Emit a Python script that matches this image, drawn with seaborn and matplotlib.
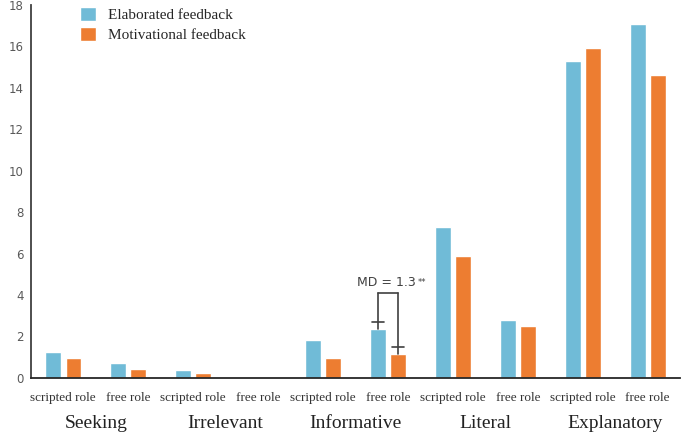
import pandas as pd
import matplotlib.pyplot as plt
import seaborn as sns
from matplotlib.patches import Patch

# values
categories = ["Seeking", "Irrelevant", "Informative", "Literal", "Explanatory"]
roles = ["scripted role", "free role"]
elaborated = [1.25, 0.7, 0.4, 0.0, 1.85, 2.35, 7.3, 2.8, 15.3, 17.1]
motivational = [0.95, 0.45, 0.25, 0.0, 0.95, 1.15, 5.9, 2.5, 15.9, 14.6]
series = ["Elaborated feedback", "Motivational feedback"]
colors = ["#70BBD7", "#ED7D31"]

# error bar tops for the Informative / free role pair
err_top = [2.7, 1.5]
md_text = "MD = 1.3"

keys = [f"{c}|{r}" for c in categories for r in roles]
df = pd.DataFrame({
    "key": keys * 2,
    "value": elaborated + motivational,
    "feedback": [series[0]] * len(keys) + [series[1]] * len(keys),
})

sns.set_style("white")
fig = plt.figure(figsize=(6.85, 4.41), dpi=100)
ax = fig.add_axes([0.045, 0.143, 0.948, 0.846])

sns.barplot(data=df, x="key", y="value", hue="feedback", order=keys,
            palette=colors, width=0.62, gap=0.22, legend=False, ax=ax,
            saturation=1)

ax.set_xlim(-0.5, len(keys) - 0.5)
ax.set_ylim(0, 18)
ax.set_yticks(range(0, 19, 2))
ax.tick_params(axis="y", labelsize=8.5, labelcolor="#595959", length=0, pad=5)
ax.tick_params(axis="x", length=0, pad=10)
ax.set_xticks(range(len(keys)))
ax.set_xticklabels([k.split("|")[1] for k in keys], family="Liberation Serif",
                   fontsize=9.5, color="#333333")
ax.set_xlabel("")
ax.set_ylabel("")
sns.despine(ax=ax)
ax.spines["left"].set_color("#404040")
ax.spines["bottom"].set_color("#262626")
ax.spines["left"].set_linewidth(1.3)
ax.spines["bottom"].set_linewidth(1.3)

# category names under each pair
for i, c in enumerate(categories):
    ax.annotate(c, xy=(2 * i + 0.5, 0), xycoords=("data", "axes fraction"),
                xytext=(0, -33), textcoords="offset points", ha="center",
                va="center", family="Liberation Serif", fontsize=14,
                color="#222222")

# error bars and bracket on Informative / free role
idx = keys.index("Informative|free role")
bars = [ax.containers[0][idx], ax.containers[1][idx]]
xs = [b.get_x() + b.get_width() / 2 for b in bars]
tops = [b.get_height() for b in bars]
bracket_y = 4.1
for x, t, e in zip(xs, tops, err_top):
    ax.plot([x, x], [t, bracket_y], color="#404040", lw=1.2)
    ax.plot([x - 0.09, x + 0.09], [e, e], color="#404040", lw=1.2)
ax.plot(xs, [bracket_y, bracket_y], color="#404040", lw=1.2)
ax.text(sum(xs) / 2 - 0.03, 4.6, md_text, ha="center", va="center",
        fontsize=9, color="#404040")
ax.text(sum(xs) / 2 + 0.46, 4.6, "**", ha="left", va="center",
        fontsize=6, color="#404040")

handles = [Patch(facecolor=c, label=s) for c, s in zip(colors, series)]
ax.legend(handles=handles, loc="upper left", bbox_to_anchor=(0.055, 1.03),
          frameon=False, handlelength=1.0, handleheight=1.0,
          handletextpad=0.8, labelspacing=0.3,
          prop={"family": "Liberation Serif", "size": 11})

fig.savefig("out.png", dpi=100)
